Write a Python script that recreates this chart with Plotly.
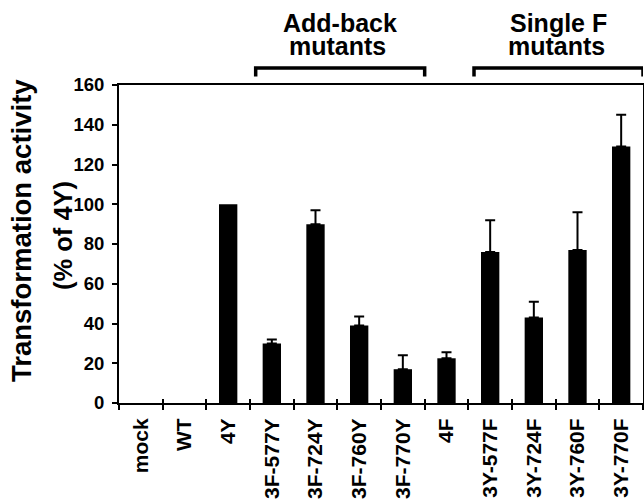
import plotly.graph_objects as go

# ---------------- data ----------------
categories = ["mock", "WT", "4Y", "3F-577Y", "3F-724Y", "3F-760Y", "3F-770Y",
              "4F", "3Y-577F", "3Y-724F", "3Y-760F", "3Y-770F"]
activity = [0, 0, 100, 30, 90, 39, 17, 22.5, 76, 43, 77, 129]
error_up = [None, None, None, 2, 7, 4.5, 7, 3, 16, 8, 19, 16]
y_ticks = [0, 20, 40, 60, 80, 100, 120, 140, 160]

group_line1 = ["Add-back", "Single F"]
group_line2 = ["mutants", "mutants"]
group_first = ["3F-577Y", "3Y-577F"]
group_last = ["3F-770Y", "3Y-770F"]

y_title1 = "Transformation activity"
y_title2 = "(% of 4Y)"

# ---------------- layout constants ----------------
W, H = 644, 501
ML, MR, MT, MB = 119, 1, 85, 98
PW, PH = W - ML - MR, H - MT - MB
FONT = "Liberation Sans, Arial, Helvetica, sans-serif"


def px_x(p):
    return (p - ML) / PW


def px_y(p):
    return (H - MB - p) / PH


err_idx = [i for i, e in enumerate(error_up) if e is not None]

fig = go.Figure()
fig.add_trace(go.Bar(
    x=categories, y=activity, width=0.42,
    marker=dict(color="black", line=dict(width=0)),
    showlegend=False, hoverinfo="x+y",
))
# upper error bars (only where the reference shows them)
fig.add_trace(go.Scatter(
    x=[categories[i] for i in err_idx], y=[activity[i] for i in err_idx],
    mode="markers", marker=dict(size=1, color="black"),
    error_y=dict(type="data", symmetric=False,
                 array=[error_up[i] for i in err_idx],
                 arrayminus=[0 for _ in err_idx],
                 color="black", thickness=2, width=5),
    showlegend=False, hoverinfo="skip",
))
# invisible trace to carry the inner half of the crossing x ticks
fig.add_trace(go.Scatter(x=categories, y=activity, mode="none", xaxis="x2",
                         showlegend=False, hoverinfo="skip"))

shapes = []
annotations = []
for l1, l2, a, b in zip(group_line1, group_line2, group_first, group_last):
    i0 = categories.index(a) - 0.37
    i1 = categories.index(b) + 0.5
    y_top = px_y(68)
    y_end = px_y(76.5)
    shapes.append(dict(type="path", xref="x", yref="paper",
                       path=f"M {i0},{y_end} L {i0},{y_top} L {i1},{y_top} L {i1},{y_end}",
                       line=dict(color="black", width=3.5)))
    xc = (i0 + i1) / 2
    annotations.append(dict(x=xc, y=px_y(23), xref="x", yref="paper", text=l1,
                            showarrow=False, xanchor="center", yanchor="middle",
                            font=dict(family=FONT, size=25, color="black", weight="bold")))
    annotations.append(dict(x=xc - 0.05, y=px_y(46), xref="x", yref="paper", text=l2,
                            showarrow=False, xanchor="center", yanchor="middle",
                            font=dict(family=FONT, size=25, color="black", weight="bold")))

annotations.append(dict(x=px_x(21), y=px_y(231), xref="paper", yref="paper", text=y_title1,
                        textangle=-90, showarrow=False, xanchor="center", yanchor="middle",
                        font=dict(family=FONT, size=27.5, color="black", weight="bold")))
annotations.append(dict(x=px_x(63), y=px_y(236), xref="paper", yref="paper", text=y_title2,
                        textangle=-90, showarrow=False, xanchor="center", yanchor="middle",
                        font=dict(family=FONT, size=25.5, color="black", weight="bold")))

fig.update_layout(
    width=W, height=H,
    margin=dict(l=ML, r=MR, t=MT, b=MB, pad=0),
    paper_bgcolor="white", plot_bgcolor="white",
    font=dict(family=FONT, color="black"),
    xaxis=dict(type="category", categoryorder="array", categoryarray=categories,
               range=[-0.5, len(categories) - 0.5], automargin=False,
               tickson="boundaries", ticks="outside", ticklen=5, tickwidth=2,
               tickcolor="black", showline=True, linecolor="black", linewidth=2,
               mirror=True, showgrid=False, zeroline=False,
               tickangle=-90, ticklabelstandoff=5,
               tickfont=dict(family=FONT, size=21, color="black", weight="bold")),
    xaxis2=dict(type="category", categoryorder="array", categoryarray=categories,
                range=[-0.5, len(categories) - 0.5], overlaying="x", automargin=False,
                tickson="boundaries", ticks="inside", ticklen=4, tickwidth=2,
                tickcolor="black", showline=False, showgrid=False, zeroline=False,
                showticklabels=False, side="bottom"),
    yaxis=dict(range=[0, 160], tickvals=y_ticks, ticks="outside", ticklen=5,
               tickwidth=2, tickcolor="black", showline=True, linecolor="black",
               linewidth=2, mirror=True, showgrid=False, zeroline=False,
               ticklabelstandoff=4, automargin=False,
               tickfont=dict(family=FONT, size=18.5, color="black", weight="bold")),
    shapes=shapes, annotations=annotations,
)

fig.write_html("out.html")
